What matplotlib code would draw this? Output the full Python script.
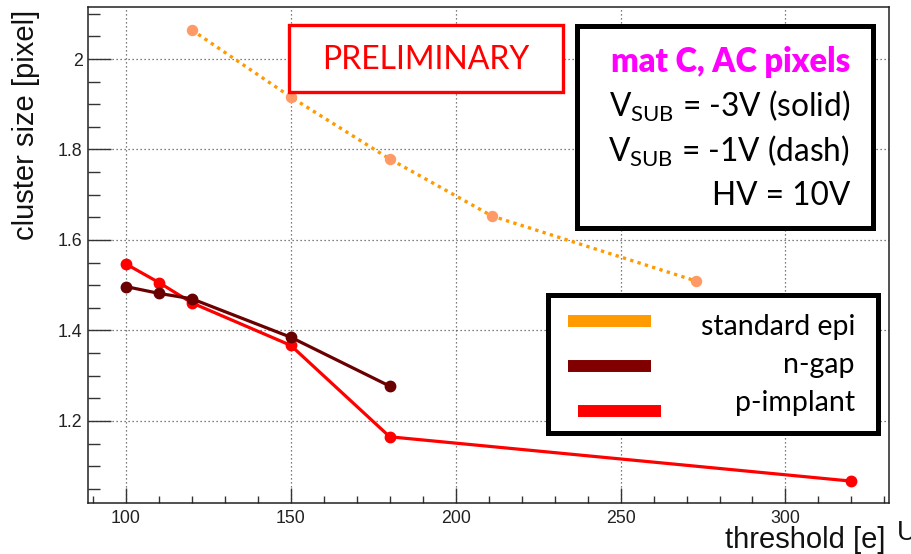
import matplotlib
matplotlib.use("Agg")
import matplotlib.pyplot as plt
from matplotlib.patches import Rectangle
from matplotlib.lines import Line2D
from matplotlib.ticker import MultipleLocator, FixedLocator

# ---- data -------------------------------------------------------------
std_epi_x = [120, 150, 180, 211, 273]
std_epi_y = [2.064, 1.916, 1.779, 1.653, 1.509]

ngap_x = [100, 110, 120, 150, 180]
ngap_y = [1.497, 1.482, 1.470, 1.385, 1.277]

pimp_x = [100, 110, 120, 150, 180, 320]
pimp_y = [1.547, 1.506, 1.461, 1.367, 1.165, 1.067]

x_ticks = [100, 150, 200, 250, 300]
y_ticks = [1.2, 1.4, 1.6, 1.8, 2.0]
y_tick_labels = ["1.2", "1.4", "1.6", "1.8", "2"]

legend_labels = ["standard epi", "n-gap", "p-implant"]
info_lines = ["V$_{\\mathrm{SUB}}$ = -3V (solid)",
              "V$_{\\mathrm{SUB}}$ = -1V (dash)",
              "HV = 10V"]

# ---- styling ----------------------------------------------------------
W, H, DPI = 912, 554, 100
plt.rcParams["mathtext.fontset"] = "custom"
plt.rcParams["mathtext.rm"] = "Lato"
plt.rcParams["mathtext.it"] = "Lato:italic"
plt.rcParams["mathtext.bf"] = "Lato:bold"

C_ORANGE_LINE = "#FF9A00"
C_ORANGE_MARK = "#FF9966"
C_DARK = "#6A0000"
C_RED = "#FF0000"


def fx(px):
    return px / W


def fy(py):
    return 1 - py / H


fig = plt.figure(figsize=(W / DPI, H / DPI), dpi=DPI)
fig.patch.set_facecolor("white")

ax_l, ax_r, ax_t, ax_b = 88.3, 888.7, 6.7, 503.3
ax = fig.add_axes([fx(ax_l), fy(ax_b), (ax_r - ax_l) / W, (ax_b - ax_t) / H])
ax.set_xlim(88.6, 331.3)
ax.set_ylim(1.018, 2.1156)

# series
ax.plot(std_epi_x, std_epi_y, color=C_ORANGE_LINE, lw=2.4,
        linestyle=(0, (1.0, 1.3)), zorder=3)
ax.plot(std_epi_x, std_epi_y, linestyle="none", marker="o", ms=7.2,
        color=C_ORANGE_MARK, zorder=4)
ax.plot(pimp_x, pimp_y, color=C_RED, lw=2.3, marker="o", ms=7.5, zorder=3)
ax.plot(ngap_x, ngap_y, color=C_DARK, lw=2.3, marker="o", ms=7.5, zorder=4)

# axes and ticks
ax.xaxis.set_major_locator(FixedLocator(x_ticks))
ax.xaxis.set_minor_locator(MultipleLocator(10))
ax.yaxis.set_major_locator(FixedLocator(y_ticks))
ax.yaxis.set_minor_locator(MultipleLocator(0.05))
ax.set_yticklabels(y_tick_labels)

for lab in ax.get_xticklabels() + ax.get_yticklabels():
    lab.set_fontfamily("Liberation Sans")
    lab.set_fontsize(12.8)
    lab.set_color("#222222")

ax.tick_params(axis="y", which="major", direction="in", length=16.5,
               width=1.0, color="#333333", pad=4)
ax.tick_params(axis="y", which="minor", direction="in", length=8.6,
               width=1.0, color="#333333")
ax.tick_params(axis="x", which="major", direction="in", length=10.8,
               width=1.0, color="#333333", pad=5)
ax.tick_params(axis="x", which="minor", direction="in", length=5.0,
               width=1.0, color="#333333")

for sp in ax.spines.values():
    sp.set_linewidth(1.1)
    sp.set_color("#222222")

ax.grid(True, which="major", linestyle=(0, (1, 2.2)), color="#555555",
        linewidth=0.9, zorder=0)
ax.set_axisbelow(True)

# axis titles
fig.text(fx(886), fy(548.5), "threshold [e]", ha="right", va="baseline",
         family="Liberation Sans", fontsize=21, color="#111111")
fig.text(fx(34), fy(10), "cluster size [pixel]", rotation=90,
         rotation_mode="anchor", ha="right", va="baseline",
         family="Liberation Sans", fontsize=21, color="#111111")
fig.text(fx(897), fy(540), "U", ha="left", va="baseline",
         family="Liberation Sans", fontsize=19.5, color="#111111")

# PRELIMINARY stamp
fig.add_artist(Rectangle((fx(289), fy(92)), fx(563) - fx(289), fy(25) - fy(92),
                         transform=fig.transFigure, facecolor="white",
                         edgecolor=C_RED, linewidth=2.4, zorder=10))
fig.text(fx(426), fy(60), "PRELIMINARY", ha="center", va="center",
         family="Lato", fontsize=23, color=C_RED, zorder=11)

# conditions box
fig.add_artist(Rectangle((fx(577), fy(228)), fx(873) - fx(577), fy(26) - fy(228),
                         transform=fig.transFigure, facecolor="white",
                         edgecolor="black", linewidth=3.6, zorder=10))
fig.text(fx(850), fy(72), "mat C, AC pixels", ha="right", va="baseline",
         family="Lato", fontweight="heavy", fontsize=23.5, color="#FF00FF",
         zorder=11)
for txt, base in zip(info_lines, [117, 162, 205]):
    fig.text(fx(850), fy(base), txt, ha="right", va="baseline",
             family="Lato", fontsize=22.8, color="black", zorder=11)

# legend box
fig.add_artist(Rectangle((fx(548), fy(433)), fx(878) - fx(548), fy(295) - fy(433),
                         transform=fig.transFigure, facecolor="white",
                         edgecolor="black", linewidth=3.6, zorder=10))
leg_colors = [C_ORANGE_LINE, "#800000", C_RED]
leg_x0 = [568, 568, 578]
leg_y = [321, 366, 411]
leg_base = [335, 373, 411]
for lab, col, x0, yc, yb in zip(legend_labels, leg_colors, leg_x0, leg_y, leg_base):
    fig.add_artist(Line2D([fx(x0), fx(x0 + 83)], [fy(yc), fy(yc)],
                          transform=fig.transFigure, color=col, linewidth=8.6,
                          solid_capstyle="butt", zorder=11))
    fig.text(fx(855), fy(yb), lab, ha="right", va="baseline",
             family="Lato", fontsize=20.5, color="black", zorder=11)

fig.savefig("out.png", dpi=DPI)
